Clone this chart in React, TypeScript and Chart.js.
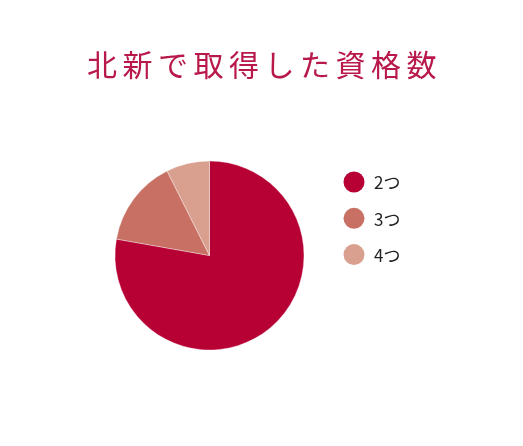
import React, { useEffect, useRef } from "react";
import { Chart, registerables } from "chart.js";

Chart.register(...registerables);

const TITLE = "北新で取得した資格数";
const categories = ["2つ", "3つ", "4つ"];
const counts = [21, 4, 2];
const colors = ["#b70034", "#c87064", "#d9a08f"];

const overlayPlugin = {
  id: "overlay",
  afterDraw(chart: any) {
    const ctx = chart.ctx;
    ctx.save();
    // title
    ctx.fillStyle = "#b8184a";
    ctx.font = "30px 'Noto Sans CJK JP'";
    ctx.textAlign = "center";
    ctx.textBaseline = "middle";
    try { (ctx as any).letterSpacing = "5.5px"; } catch (e) {}
    ctx.fillText(TITLE, 264.5, 65);
    try { (ctx as any).letterSpacing = "0px"; } catch (e) {}
    // legend
    const labels = chart.data.labels as string[];
    const bg = chart.data.datasets[0].backgroundColor as string[];
    labels.forEach((lab, i) => {
      const cy = 182 + i * 36.3;
      ctx.beginPath();
      ctx.arc(354, cy, 10.5, 0, Math.PI * 2);
      ctx.fillStyle = bg[i];
      ctx.fill();
      ctx.fillStyle = "#222222";
      ctx.font = "17px 'Noto Sans CJK JP'";
      ctx.textAlign = "left";
      ctx.textBaseline = "middle";
      ctx.fillText(lab, 374, cy + 1);
    });
    ctx.restore();
  },
};

export default function App() {
  const ref = useRef<HTMLCanvasElement>(null);
  useEffect(() => {
    document.body.style.margin = "0";
    const chart = new Chart(ref.current!, {
      type: "pie",
      data: {
        labels: categories,
        datasets: [
          {
            data: counts,
            backgroundColor: colors,
            borderColor: "rgba(255,255,255,0.35)",
            borderWidth: 1,
            hoverOffset: 0,
          },
        ],
      },
      options: {
        responsive: false,
        animation: false,
        devicePixelRatio: 1,
        layout: { padding: { left: 114.5, right: 218.5, top: 160.5, bottom: 95.5 } },
        plugins: {
          legend: { display: false },
          title: { display: false },
          tooltip: { enabled: false },
        },
      },
      plugins: [overlayPlugin],
    });
    return () => chart.destroy();
  }, []);
  return (
    <div style={{ position: "absolute", left: 0, top: 0, width: 523, height: 446, background: "#fff" }}>
      <canvas ref={ref} width={523} height={446} />
    </div>
  );
}
